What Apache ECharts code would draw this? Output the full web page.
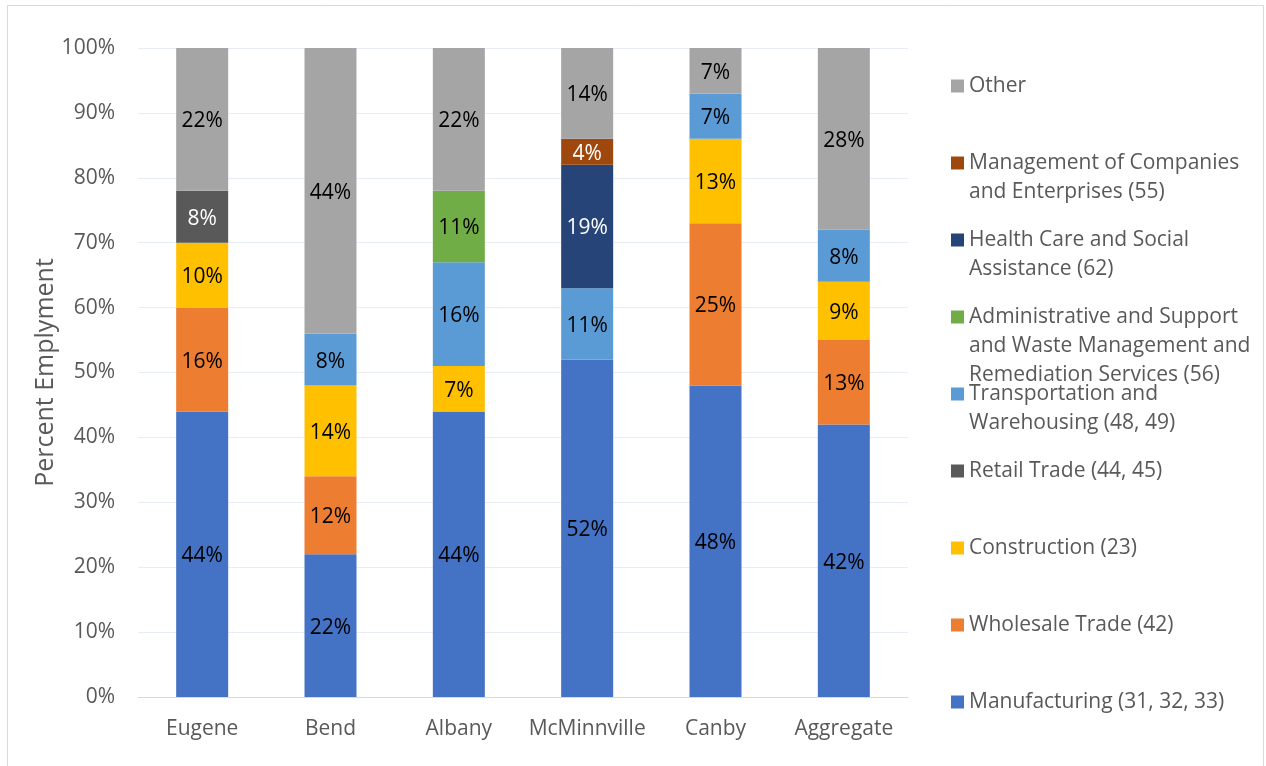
<!DOCTYPE html>
<html>
<head>
<meta charset="utf-8">
<script src="https://cdn.jsdelivr.net/npm/echarts@6/dist/echarts.min.js"></script>
<style>
  html, body { margin: 0; padding: 0; background: #fff; }
  #chart { width: 1266px; height: 766px; }
</style>
</head>
<body>
<div id="chart"></div>
<script>
// Cities shown on the category axis
const cities = ['Eugene', 'Bend', 'Albany', 'McMinnville', 'Canby', 'Aggregate'];

// Share of employment (%) by industry, per city (null = not present)
const manufacturing  = [44, 22, 44, 52, 48, 42];
const wholesale      = [16, 12, null, null, 25, 13];
const construction   = [10, 14, 7, null, 13, 9];
const retail         = [8, null, null, null, null, null];
const transportation = [null, 8, 16, 11, 7, 8];
const administrative = [null, null, 11, null, null, null];
const healthCare     = [null, null, null, 19, null, null];
const management     = [null, null, null, 4, null, null];
const other          = [22, 44, 22, 14, 7, 28];

const yTicks = [0, 10, 20, 30, 40, 50, 60, 70, 80, 90, 100];

// Series in stacking order (bottom to top)
const seriesDefs = [
  { name: 'Manufacturing (31, 32, 33)', data: manufacturing, color: '#4472C4', label: '#000' },
  { name: 'Wholesale Trade (42)', data: wholesale, color: '#ED7D31', label: '#000' },
  { name: 'Construction (23)', data: construction, color: '#FFC000', label: '#000' },
  { name: 'Retail Trade (44, 45)', data: retail, color: '#595959', label: '#fff' },
  { name: 'Transportation and\nWarehousing (48, 49)', data: transportation, color: '#5B9BD5', label: '#000' },
  { name: 'Administrative and Support\nand Waste Management and\nRemediation Services (56)', data: administrative, color: '#70AD47', label: '#000' },
  { name: 'Health Care and Social\nAssistance (62)', data: healthCare, color: '#264478', label: '#fff' },
  { name: 'Management of Companies\nand Enterprises (55)', data: management, color: '#9E480E', label: '#fff' },
  { name: 'Other', data: other, color: '#A5A5A5', label: '#000' }
];

const FONT = '"Open Sans", "Noto Sans", sans-serif';
const FS = 21;
const LINE = 29;

// One legend block per series, listed top-down in reverse stacking order,
// markers evenly spaced and aligned with the first text line
// (leading blank lines keep the first line level with the marker).
const legendTop = 86, legendStep = 77;
const legends = seriesDefs.slice().reverse().map((s, i) => {
  const lines = s.name.split('\n').length;
  const cy = legendTop + i * legendStep;
  return {
    data: [s.name],
    formatter: name => '\n'.repeat(lines - 1) + name,
    orient: 'vertical',
    left: 951,
    top: cy - (2 * lines - 1) * LINE / 2,
    padding: 0,
    icon: 'rect',
    itemWidth: 13,
    itemHeight: 13,
    selectedMode: false,
    textStyle: { fontFamily: FONT, fontSize: FS, color: '#595959', lineHeight: LINE }
  };
});

const option = {
  backgroundColor: '#fff',
  animation: false,
  graphic: [{
    type: 'rect',
    shape: { x: 7.5, y: 5.5, width: 1256, height: 780 },
    style: { fill: 'none', stroke: '#D9D9D9', lineWidth: 1 },
    silent: true
  }],
  legend: legends,
  grid: { left: 138, right: 358, top: 48, bottom: 69 },
  xAxis: {
    type: 'category',
    data: cities,
    axisLine: { lineStyle: { color: '#D9D9D9', width: 1 } },
    axisTick: { show: false },
    axisLabel: { color: '#595959', fontFamily: FONT, fontSize: FS, margin: 22, interval: 0 }
  },
  yAxis: {
    type: 'value',
    min: yTicks[0],
    max: yTicks[yTicks.length - 1],
    interval: yTicks[1] - yTicks[0],
    name: 'Percent Emplyment',
    nameLocation: 'middle',
    nameGap: 80,
    nameMoveOverlap: false,
    nameTextStyle: { color: '#595959', fontFamily: FONT, fontSize: 25 },
    axisLine: { show: false },
    axisTick: { show: false },
    axisLabel: { color: '#595959', fontFamily: FONT, fontSize: FS, margin: 23, formatter: '{value}%' },
    splitLine: { lineStyle: { color: '#E8EDF5', width: 1 } }
  },
  series: seriesDefs.map(s => ({
    name: s.name,
    type: 'bar',
    stack: 'total',
    barWidth: 52,
    data: s.data,
    itemStyle: { color: s.color },
    label: {
      show: true,
      position: 'inside',
      offset: [0, 2],
      formatter: p => (p.value == null ? '' : p.value + '%'),
      color: s.label,
      fontFamily: FONT,
      fontSize: FS
    }
  }))
};

echarts.init(document.getElementById('chart')).setOption(option);
</script>
</body>
</html>
